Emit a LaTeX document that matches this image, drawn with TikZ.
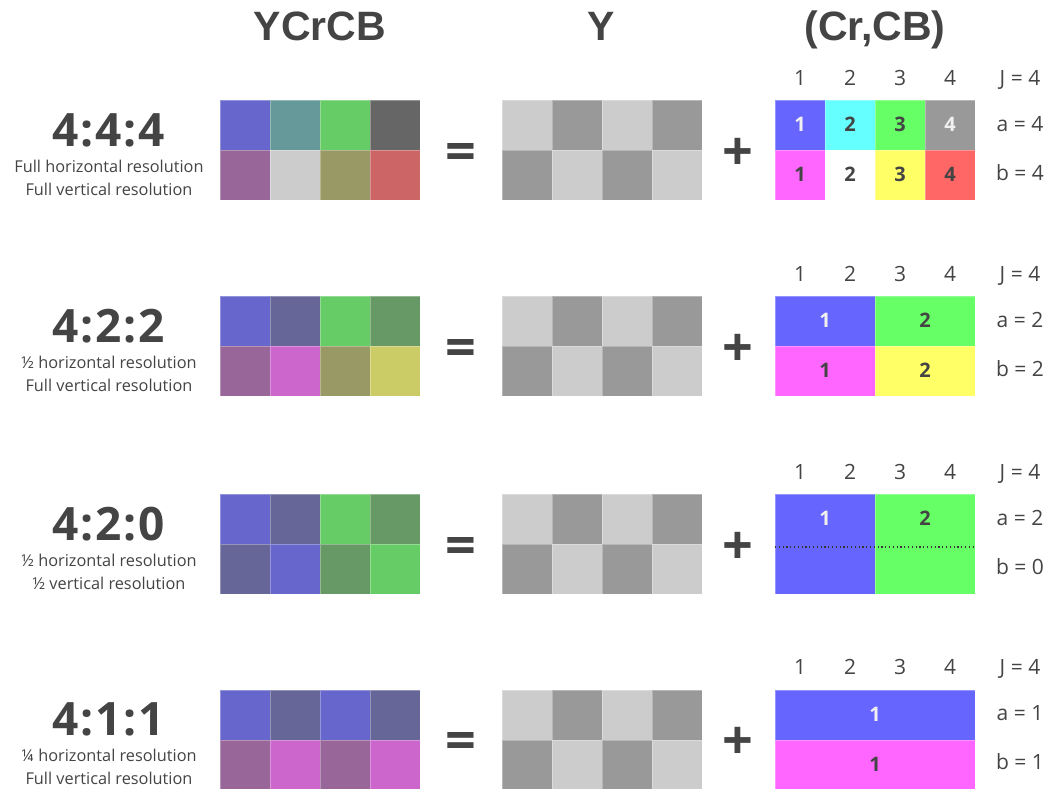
\documentclass[tikz,border=0pt]{standalone}
\usepackage{fontspec}
\setmainfont{Open Sans}
\newfontfamily\titlefont{Liberation Sans}
\newfontfamily\ratiofont{Open Sans}[LetterSpace=4]
\definecolor{dark}{HTML}{444444}
\definecolor{lite}{HTML}{F0F0F0}
% YCrCB colours
\definecolor{pB}{HTML}{6666CC}
\definecolor{pT}{HTML}{669999}
\definecolor{pG}{HTML}{66CC66}
\definecolor{pK}{HTML}{666666}
\definecolor{pM}{HTML}{996699}
\definecolor{pL}{HTML}{CCCCCC}
\definecolor{pO}{HTML}{999966}
\definecolor{pR}{HTML}{CC6666}
\definecolor{pS}{HTML}{666699}
\definecolor{pP}{HTML}{CC66CC}
\definecolor{pD}{HTML}{669966}
\definecolor{pY}{HTML}{CCCC66}
\definecolor{yL}{HTML}{CCCCCC}
\definecolor{yD}{HTML}{999999}
% chroma colours
\definecolor{cB}{HTML}{6666FF}
\definecolor{cC}{HTML}{66FFFF}
\definecolor{cG}{HTML}{66FF66}
\definecolor{cK}{HTML}{999999}
\definecolor{cM}{HTML}{FF66FF}
\definecolor{cW}{HTML}{FFFFFF}
\definecolor{cY}{HTML}{FFFF66}
\definecolor{cR}{HTML}{FF6666}
\newcommand\fsz[1]{\fontsize{#1}{#1}\selectfont}
% YCrCB grid: y, 8 colours
\newcommand\ycgrid[9]{%
  \filldraw[cell,fill=#2] (220,#1) rectangle +(50,50);
  \filldraw[cell,fill=#3] (270,#1) rectangle +(50,50);
  \filldraw[cell,fill=#4] (320,#1) rectangle +(50,50);
  \filldraw[cell,fill=#5] (370,#1) rectangle +(50,50);
  \filldraw[cell,fill=#6] (220,#1+50) rectangle +(50,50);
  \filldraw[cell,fill=#7] (270,#1+50) rectangle +(50,50);
  \filldraw[cell,fill=#8] (320,#1+50) rectangle +(50,50);
  \filldraw[cell,fill=#9] (370,#1+50) rectangle +(50,50);
}
% Y grid
\newcommand\lumagrid[1]{%
  \filldraw[cell,fill=yL] (502,#1) rectangle +(50,50);
  \filldraw[cell,fill=yD] (552,#1) rectangle +(50,50);
  \filldraw[cell,fill=yL] (602,#1) rectangle +(50,50);
  \filldraw[cell,fill=yD] (652,#1) rectangle +(50,50);
  \filldraw[cell,fill=yD] (502,#1+50) rectangle +(50,50);
  \filldraw[cell,fill=yL] (552,#1+50) rectangle +(50,50);
  \filldraw[cell,fill=yD] (602,#1+50) rectangle +(50,50);
  \filldraw[cell,fill=yL] (652,#1+50) rectangle +(50,50);
}
% row label: y, prefix, title, line1, line2, a, b
\newcommand\rowtext[7]{%
  \node[lbl,font=\ratiofont\bfseries\fsz{46}] (#2-t) at (109,#1+46) {#3};
  \node[lbl,font=\fsz{16.3}] (#2-l1) at (109,#1+72.5) {#4};
  \node[lbl,font=\fsz{16.3}] (#2-l2) at (109,#1+95) {#5};
  \node[lbl,font=\bfseries\fsz{54}] (#2-eq) at (460.5,#1+70) {=};
  \node[lbl,font=\bfseries\fsz{54}] (#2-pl) at (738,#1+70) {+};
  \node[lbl,font=\fsz{21}] (#2-n1) at (800,#1-15) {1};
  \node[lbl,font=\fsz{21}] (#2-n2) at (850,#1-15) {2};
  \node[lbl,font=\fsz{21}] (#2-n3) at (900,#1-15) {3};
  \node[lbl,font=\fsz{21}] (#2-n4) at (950,#1-15) {4};
  \node[lbl,font=\fsz{21}] (#2-J) at (1020,#1-15) {J = 4};
  \node[lbl,font=\fsz{21}] (#2-a) at (1020,#1+31) {a = #6};
  \node[lbl,font=\fsz{21}] (#2-b) at (1020,#1+80) {b = #7};
}
\begin{document}
\begin{tikzpicture}[x=1pt,y=-1pt,
  cell/.style={draw=white,draw opacity=0.3,line width=0.6pt},
  lbl/.style={anchor=base,inner sep=0pt,text=dark},
  dig/.style={anchor=base,inner sep=0pt,text=dark,font=\bfseries\fsz{20}},
  digw/.style={dig,text=lite},
  ttl/.style={anchor=base,inner sep=0pt,text=dark,font=\titlefont\bfseries\fsz{41}}]
\useasboundingbox (0,0) rectangle (1061,788);
\clip (0,0) rectangle (1061,788);
\fill[white] (0,0) rectangle (1061,788);

% headings
\node[ttl] (hYC) at (320,40) {YCrCB};
\node[ttl] (hY) at (601,40) {Y};
\node[ttl] (hCC) at (875,40) {(Cr,CB)};

% ---------- row 1: 4:4:4 ----------
\ycgrid{100}{pB}{pT}{pG}{pK}{pM}{pL}{pO}{pR}
\lumagrid{100}
\rowtext{100}{r1}{4:4:4}{Full horizontal resolution}{Full vertical resolution}{4}{4}
\filldraw[cell,fill=cB] (775,100) rectangle +(50,50);
\filldraw[cell,fill=cC] (825,100) rectangle +(50,50);
\filldraw[cell,fill=cG] (875,100) rectangle +(50,50);
\filldraw[cell,fill=cK] (925,100) rectangle +(50,50);
\filldraw[cell,fill=cM] (775,150) rectangle +(50,50);
\fill[cW] (825,150) rectangle +(50,50);
\filldraw[cell,fill=cY] (875,150) rectangle +(50,50);
\filldraw[cell,fill=cR] (925,150) rectangle +(50,50);
\node[digw] (r1-c1) at (800,131) {1};
\node[dig] (r1-c2) at (850,131) {2};
\node[dig] (r1-c3) at (900,131) {3};
\node[digw] (r1-c4) at (950,131) {4};
\node[dig] (r1-d1) at (800,181) {1};
\node[dig] (r1-d2) at (850,181) {2};
\node[dig] (r1-d3) at (900,181) {3};
\node[dig] (r1-d4) at (950,181) {4};

% ---------- row 2: 4:2:2 ----------
\ycgrid{296}{pB}{pS}{pG}{pD}{pM}{pP}{pO}{pY}
\lumagrid{296}
\rowtext{296}{r2}{4:2:2}{½ horizontal resolution}{Full vertical resolution}{2}{2}
\filldraw[cell,fill=cB] (775,296) rectangle +(100,50);
\filldraw[cell,fill=cG] (875,296) rectangle +(100,50);
\filldraw[cell,fill=cM] (775,346) rectangle +(100,50);
\filldraw[cell,fill=cY] (875,346) rectangle +(100,50);
\node[digw] (r2-c1) at (825,327) {1};
\node[dig] (r2-c2) at (925,327) {2};
\node[dig] (r2-d1) at (825,377) {1};
\node[dig] (r2-d2) at (925,377) {2};

% ---------- row 3: 4:2:0 ----------
\ycgrid{494}{pB}{pS}{pG}{pD}{pS}{pB}{pD}{pG}
\lumagrid{494}
\rowtext{494}{r3}{4:2:0}{½ horizontal resolution}{½ vertical resolution}{2}{0}
\filldraw[cell,fill=cB] (775,494) rectangle +(100,100);
\filldraw[cell,fill=cG] (875,494) rectangle +(100,100);
\coordinate (r3-dl) at (775,547);
\coordinate (r3-dr) at (975,547);
\draw[dark!80!black,line width=1.2pt,dash pattern=on 1.2pt off 2.6pt] (r3-dl) -- (r3-dr);
\node[digw] (r3-c1) at (825,525) {1};
\node[dig] (r3-c2) at (925,525) {2};

% ---------- row 4: 4:1:1 ----------
\ycgrid{690}{pB}{pS}{pB}{pS}{pM}{pP}{pM}{pP}
\lumagrid{690}
\rowtext{689}{r4}{4:1:1}{¼ horizontal resolution}{Full vertical resolution}{1}{1}
\filldraw[cell,fill=cB] (775,690) rectangle +(200,50);
\filldraw[cell,fill=cM] (775,740) rectangle +(200,50);
\node[digw] (r4-c1) at (875,721) {1};
\node[dig] (r4-d1) at (875,771) {1};
\end{tikzpicture}
\end{document}
